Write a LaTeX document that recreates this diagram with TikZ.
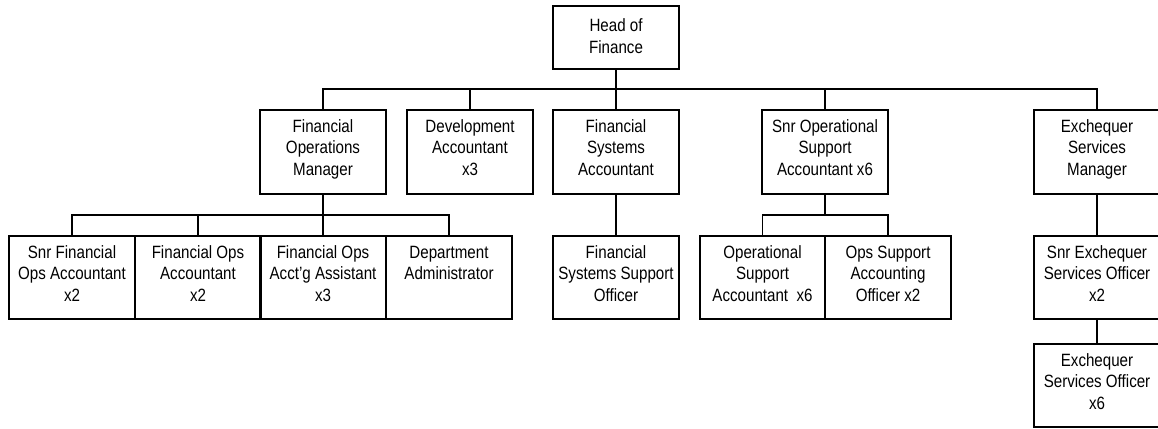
\documentclass[tikz,border=0pt]{standalone}
\usepackage{fontspec}
\setmainfont{Liberation Sans}[FakeStretch=0.85]
\newcommand\boxtext[4]{\parbox[t][#2pt][t]{#1pt}{\centering\fontsize{17.8pt}{21.7pt}\selectfont\rule{0pt}{#3pt}#4\par}}
\tikzset{
  orgbox/.style={draw, line width=1.4pt, inner sep=0pt, outer sep=0pt, anchor=north west},
  link/.style={line width=1.4pt}
}
\begin{document}
\begin{tikzpicture}[x=1pt,y=-1pt]
\useasboundingbox (0,0) rectangle (1158,428);
\clip (0,0) rectangle (1158,428);
% level 1
\node[orgbox] (hof) at (553,6) {\boxtext{126}{63}{26}{Head of\\Finance}};
% level 2
\node[orgbox] (fom) at (260,110) {\boxtext{126}{84}{22}{Financial\\Operations\\Manager}};
\node[orgbox] (dev) at (407,110) {\boxtext{126}{84}{22}{Development\\Accountant\\x3}};
\node[orgbox] (fsa) at (553,110) {\boxtext{126}{84}{22}{Financial\\Systems\\Accountant}};
\node[orgbox] (sos) at (762,110) {\boxtext{126}{84}{22}{Snr Operational\\Support\\Accountant x6}};
\node[orgbox] (esm) at (1034,110) {\boxtext{126}{84}{22}{Exchequer\\Services\\Manager}};
% level 3
\node[orgbox] (sfo) at (9,236) {\boxtext{126}{83}{22}{Snr Financial\\Ops Accountant\\x2}};
\node[orgbox] (foa) at (135,236) {\boxtext{126}{83}{22}{Financial Ops\\Accountant\\x2}};
\node[orgbox] (fas) at (260,236) {\boxtext{126}{83}{22}{Financial Ops\\Acct’g Assistant\\x3}};
\node[orgbox] (dad) at (386,236) {\boxtext{126}{83}{22}{Department\\Administrator}};
\node[orgbox] (fss) at (553,236) {\boxtext{126}{83}{22}{Financial\\Systems Support\\Officer}};
\node[orgbox] (osa) at (700,236) {\boxtext{125}{83}{22}{Operational\\Support\\Accountant~~x6}};
\node[orgbox] (osb) at (825,236) {\boxtext{126}{83}{22}{Ops Support\\Accounting\\Officer x2}};
\node[orgbox] (seo) at (1034,236) {\boxtext{126}{83}{22}{Snr Exchequer\\Services Officer\\x2}};
% level 4
\node[orgbox] (eso) at (1034,344) {\boxtext{126}{83}{22}{Exchequer\\Services Officer\\x6}};
% bus coordinates
\coordinate (busA) at (616,89);
\coordinate (busB) at (323,215);
\coordinate (busC) at (825,215);
% connectors
\draw[link] (hof.south) -- (fsa.north);
\draw[link] (fom.north) |- (busA) -| (esm.north);
\draw[link] (dev.north) -- (dev.north |- busA);
\draw[link] (sos.north) -- (sos.north |- busA);
\draw[link] (fom.south) -- (fas.north);
\draw[link] (sfo.north) |- (busB) -| (dad.north);
\draw[link] (foa.north) -- (foa.north |- busB);
\draw[link] (fsa.south) -- (fss.north);
\draw[link] (sos.south) -- (busC);
\draw[link] (osa.north) |- (busC) -| (osb.north);
\draw[link] (esm.south) -- (seo.north);
\draw[link] (seo.south) -- (eso.north);
\end{tikzpicture}
\end{document}
